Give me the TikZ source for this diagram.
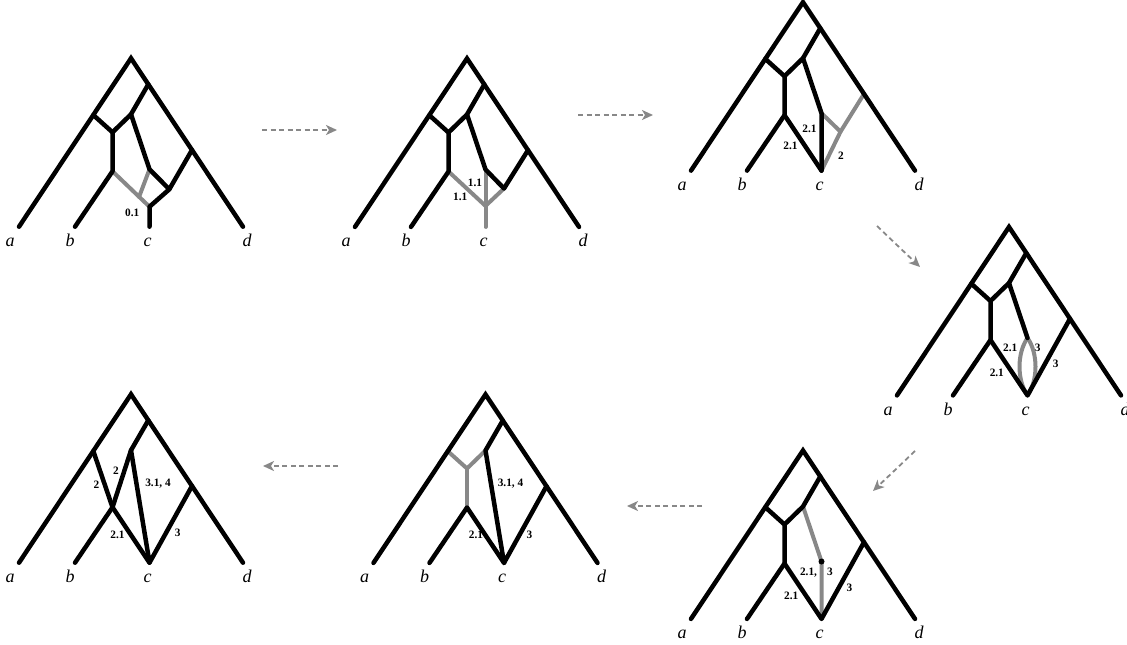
\documentclass[tikz,border=0pt]{standalone}
\usepackage{fontspec}
\setmainfont{Liberation Serif}
\usetikzlibrary{arrows.meta}
\definecolor{lg}{RGB}{136,136,136}
\tikzset{
 blk/.style={line width=4.5pt, line cap=round, line join=round, black},
 apex/.style={line width=4.5pt, line cap=round, line join=miter, black},
 gry/.style={line width=4pt, line cap=round, line join=round, lg},
 leaf/.style={font=\fontsize{18}{18}\selectfont\itshape, anchor=base, inner sep=0pt},
 lab/.style={font=\fontsize{11.3}{11.3}\selectfont\bfseries, inner sep=0pt},
 flow/.style={lg, line width=1.8pt, dash pattern=on 5pt off 3.5pt, -{Stealth[length=11pt,width=10pt,inset=3pt]}},
}
\newcommand\panelpts[3]{%
 \begin{scope}[shift={(#2,#3)}]
 \coordinate (#1R) at (0,0);
 \coordinate (#1a) at (-112,168.4);
 \coordinate (#1b) at (-56,168.4);
 \coordinate (#1c) at (18.5,168.4);
 \coordinate (#1d) at (112,168.4);
 \coordinate (#1A) at (-37.7,56.7);
 \coordinate (#1U) at (17.3,26);
 \coordinate (#1L) at (61,91.7);
 \coordinate (#1X) at (-18.5,74);
 \coordinate (#1Y) at (0,56);
 \coordinate (#1B) at (-18.5,113);
 \coordinate (#1Z) at (18.5,111);
 \node[leaf] (#1la) at (-121,188.4) {a};
 \node[leaf] (#1lb) at (-61,188.4) {b};
 \node[leaf] (#1lc) at (16.5,188.4) {c};
 \node[leaf] (#1ld) at (116,188.4) {d};
 \end{scope}}
\begin{document}
\begin{tikzpicture}[x=1pt,y=-1pt]
\useasboundingbox (0,0) rectangle (1127,645);
% ---------- panel 1
\panelpts{p1}{131}{58.3}
\begin{scope}[shift={(131,58.3)}]
 \coordinate (p1W) at (38.3,131);
 \coordinate (p1C) at (18.5,148.4);
 \coordinate (p1G) at (8.1,138.5);
 \node[lab] (p1t1) at (1.2,154.4) {0.1};
\end{scope}
\draw[gry] (p1B) -- (p1G) -- (p1C);
\draw[gry] (p1Z) -- (p1G);
\draw[apex] (p1a) -- (p1R) -- (p1d);
\draw[blk] (p1b) -- (p1B) -- (p1X) -- (p1A);
\draw[blk] (p1X) -- (p1Y) -- (p1U);
\draw[blk] (p1Y) -- (p1Z) -- (p1W) -- (p1L);
\draw[blk] (p1W) -- (p1C) -- (p1c);
% ---------- panel 2
\panelpts{p2}{467}{58.5}
\begin{scope}[shift={(467,58.5)}]
 \coordinate (p2W) at (37,130);
 \coordinate (p2J) at (18.5,147.4);
 \node[lab] (p2t1) at (8,124.2) {1.1};
 \node[lab] (p2t2) at (-6.8,138.8) {1.1};
\end{scope}
\draw[gry] (p2B) -- (p2J) -- (p2W);
\draw[gry] (p2Z) -- (p2c);
\draw[apex] (p2a) -- (p2R) -- (p2d);
\draw[blk] (p2b) -- (p2B) -- (p2X) -- (p2A);
\draw[blk] (p2X) -- (p2Y) -- (p2U);
\draw[blk] (p2Y) -- (p2Z) -- (p2W) -- (p2L);
% ---------- panel 3
\panelpts{p3}{803}{2.2}
\begin{scope}[shift={(803,2.2)}]
 \coordinate (p3W) at (37.5,129.5);
 \node[lab] (p3t1) at (6.5,127.1) {2.1};
 \node[lab] (p3t2) at (-12.5,143.8) {2.1};
 \node[lab] (p3t3) at (38,153.3) {2};
\end{scope}
\draw[gry] (p3Z) -- (p3W);
\draw[gry] (p3L) -- (p3W) -- (p3c);
\draw[apex] (p3a) -- (p3R) -- (p3d);
\draw[blk] (p3b) -- (p3B) -- (p3X) -- (p3A);
\draw[blk] (p3X) -- (p3Y) -- (p3U);
\draw[blk] (p3Y) -- (p3Z) -- (p3c);
\draw[blk] (p3B) -- (p3c);
% ---------- panel 4
\panelpts{p4}{1009}{227}
\begin{scope}[shift={(1009,227)}]
 \node[lab] (p4t1) at (1.3,121.3) {2.1};
 \node[lab] (p4t2) at (28.8,121.3) {3};
 \node[lab] (p4t3) at (46.8,137) {3};
 \node[lab] (p4t4) at (-12.2,146.3) {2.1};
\end{scope}
\draw[gry] (p4Z) to[out=235,in=125,distance=18.6pt] (p4c);
\draw[gry] (p4Z) to[out=305,in=55,distance=18.6pt] (p4c);
\draw[apex] (p4a) -- (p4R) -- (p4d);
\draw[blk] (p4b) -- (p4B) -- (p4X) -- (p4A);
\draw[blk] (p4X) -- (p4Y) -- (p4U);
\draw[blk] (p4Y) -- (p4Z);
\draw[blk] (p4B) -- (p4c) -- (p4L);
% ---------- panel 5
\panelpts{p5}{803}{450.5}
\begin{scope}[shift={(803,450.5)}]
 \node[lab] (p5t1) at (5.5,122) {2.1,};
 \node[lab] (p5t2) at (27,121.2) {3};
 \node[lab] (p5t3) at (46.5,137.8) {3};
 \node[lab] (p5t4) at (-11.7,145.8) {2.1};
\end{scope}
\draw[gry] (p5Y) -- (p5Z) -- (p5c);
\draw[apex] (p5a) -- (p5R) -- (p5d);
\draw[blk] (p5b) -- (p5B) -- (p5X) -- (p5A);
\draw[blk] (p5X) -- (p5Y) -- (p5U);
\draw[blk] (p5B) -- (p5c) -- (p5L);
\fill[black] (p5Z) circle (3);
% ---------- panel 6
\panelpts{p6}{485.5}{394.5}
\begin{scope}[shift={(485.5,394.5)}]
 \node[lab] (p6t1) at (25,89.2) {3.1, 4};
 \node[lab] (p6t2) at (44,140.5) {3};
 \node[lab] (p6t3) at (-9.5,140.8) {2.1};
\end{scope}
\draw[gry] (p6A) -- (p6X) -- (p6Y);
\draw[gry] (p6X) -- (p6B);
\draw[apex] (p6a) -- (p6R) -- (p6d);
\draw[blk] (p6b) -- (p6B) -- (p6c);
\draw[blk] (p6U) -- (p6Y) -- (p6c) -- (p6L);
% ---------- panel 7
\panelpts{p7}{131}{394.3}
\begin{scope}[shift={(131,394.3)}]
 \node[lab] (p7t1) at (-34.6,90.2) {2};
 \node[lab] (p7t2) at (-15,76.9) {2};
 \node[lab] (p7t3) at (27,89.7) {3.1, 4};
 \node[lab] (p7t4) at (-13.5,141) {2.1};
 \node[lab] (p7t5) at (46.8,139) {3};
\end{scope}
\draw[apex] (p7a) -- (p7R) -- (p7d);
\draw[blk] (p7b) -- (p7B) -- (p7Y) -- (p7U);
\draw[blk] (p7A) -- (p7B) -- (p7c);
\draw[blk] (p7Y) -- (p7c) -- (p7L);
% ---------- flow arrows
\coordinate (f1s) at (262,130); \coordinate (f1e) at (337,130);
\coordinate (f2s) at (578,115); \coordinate (f2e) at (653,115);
\coordinate (f3s) at (877,226); \coordinate (f3e) at (920,267);
\coordinate (f4s) at (915,451); \coordinate (f4e) at (873,491);
\coordinate (f5s) at (702,506); \coordinate (f5e) at (627,506);
\coordinate (f6s) at (338,466); \coordinate (f6e) at (263,466);
\draw[flow] (f1s) -- (f1e);
\draw[flow] (f2s) -- (f2e);
\draw[flow] (f3s) -- (f3e);
\draw[flow] (f4s) -- (f4e);
\draw[flow] (f5s) -- (f5e);
\draw[flow] (f6s) -- (f6e);
\end{tikzpicture}
\end{document}
